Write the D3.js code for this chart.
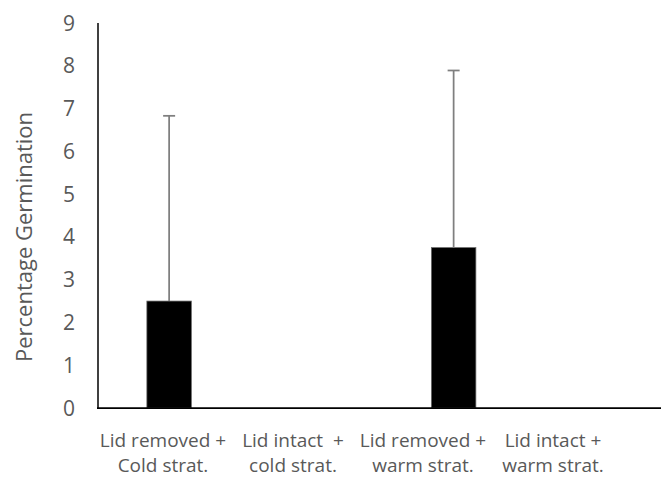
<!DOCTYPE html>
<html>
<head>
<meta charset="utf-8">
<script src="https://cdn.jsdelivr.net/npm/d3@7"></script>
<style>
    body { margin: 0; background: #fff; }
    svg { display: block; font-family: "Open Sans", sans-serif; }
</style>
</head>
<body>
<svg id="chart" width="661" height="479"></svg>
<script>
const categories = [
    ['Lid removed +', 'Cold strat.'],
    ['Lid intact  +', 'cold strat.'],
    ['Lid removed +', 'warm strat.'],
    ['Lid intact +', 'warm strat.']
];
const germination = [2.5, 0, 3.75, 0];
const errPlus = [4.33, 0, 4.14, 0];
const yTicks = [0, 1, 2, 3, 4, 5, 6, 7, 8, 9];

const svg = d3.select('#chart');
const keys = categories.map((_, i) => i);

const plotLeft = 98;
const plotBottom = 408;
const plotTop = 23;

// plot area runs past the right edge in the original, labels don't
const x = d3.scaleBand().domain(keys).range([plotLeft, 667]).paddingInner(0.687).paddingOuter(0.3435);
const xLab = d3.scaleBand().domain(keys).range([plotLeft, 618]);
const y = d3.scaleLinear().domain([0, 9]).range([plotBottom, plotTop]);

const textColor = '#595959';

// y tick labels
svg.append('g')
    .selectAll('text')
    .data(yTicks)
    .join('text')
    .attr('x', 75)
    .attr('y', d => y(d))
    .attr('dy', '0.36em')
    .attr('text-anchor', 'end')
    .attr('fill', textColor)
    .attr('font-size', 21)
    .text(d => d);

// bars
svg.append('g')
    .selectAll('rect')
    .data(keys)
    .join('rect')
    .attr('x', i => x(i))
    .attr('y', i => y(germination[i]))
    .attr('width', x.bandwidth())
    .attr('height', i => y(0) - y(germination[i]))
    .attr('fill', '#000')
    .attr('stroke', '#6b6b6b')
    .attr('stroke-width', 0.75);

// error bars (plus only)
const err = svg.append('g').attr('stroke', '#7f7f7f').attr('stroke-width', 1.75);
const withErr = keys.filter(i => errPlus[i] > 0);
err.selectAll('line.v')
    .data(withErr)
    .join('line')
    .attr('class', 'v')
    .attr('x1', i => x(i) + x.bandwidth() / 2)
    .attr('x2', i => x(i) + x.bandwidth() / 2)
    .attr('y1', i => y(germination[i]))
    .attr('y2', i => y(germination[i] + errPlus[i]));
err.selectAll('line.cap')
    .data(withErr)
    .join('line')
    .attr('class', 'cap')
    .attr('x1', i => x(i) + x.bandwidth() / 2 - 6)
    .attr('x2', i => x(i) + x.bandwidth() / 2 + 6)
    .attr('y1', i => y(germination[i] + errPlus[i]))
    .attr('y2', i => y(germination[i] + errPlus[i]));

// axes lines
svg.append('line')
    .attr('x1', plotLeft).attr('x2', plotLeft)
    .attr('y1', plotTop).attr('y2', plotBottom)
    .attr('stroke', '#000').attr('stroke-width', 1.5);
svg.append('line')
    .attr('x1', plotLeft - 1).attr('x2', 661)
    .attr('y1', plotBottom).attr('y2', plotBottom)
    .attr('stroke', '#000').attr('stroke-width', 1.75);

// category labels
const lab = svg.append('g')
    .selectAll('text')
    .data(keys)
    .join('text')
    .attr('text-anchor', 'middle')
    .attr('fill', textColor)
    .attr('font-size', 19)
    .style('white-space', 'pre');
lab.selectAll('tspan')
    .data(i => categories[i].map(t => ({ t, i })))
    .join('tspan')
    .attr('x', d => xLab(d.i) + xLab.bandwidth() / 2)
    .attr('y', (d, j) => 447 + j * 25)
    .text(d => d.t);

// y axis title
svg.append('text')
    .attr('transform', 'translate(32,237) rotate(-90)')
    .attr('text-anchor', 'middle')
    .attr('fill', textColor)
    .attr('font-size', 22)
    .text('Percentage Germination');
</script>
</body>
</html>
